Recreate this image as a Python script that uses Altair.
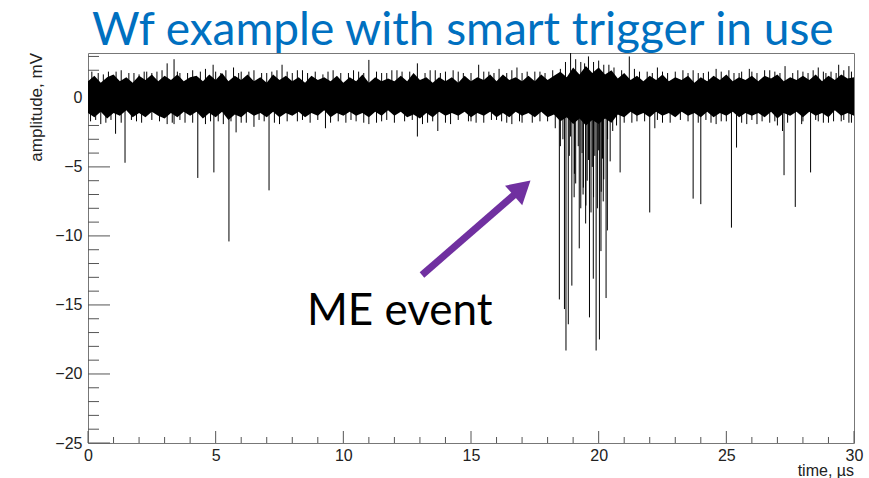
import altair as alt
import pandas as pd

# ---- waveform: dense noise band (envelope every 0.25 us) ----
env_t = [i * 0.25 for i in range(121)]
env_hi = [
    1.2, 1.6, 1.1, 1.5, 1.7, 1.2, 1.5, 1.1, 1.6,
    1.3, 1.7, 1.2, 1.6, 1.3, 1.7, 1.2, 1.5,
    1.6, 1.2, 1.7, 1.3, 1.8, 1.2, 1.6, 1.3,
    1.7, 1.2, 1.5, 1.1, 1.7, 1.3, 1.6, 1.2,
    1.5, 1.1, 1.6, 1.3, 1.5, 1.2, 1.6, 1.1,
    1.5, 1.2, 1.7, 1.1, 1.5, 1.2, 1.4, 1.2,
    1.6, 1.2, 1.8, 1.3, 1.5, 1.1, 1.5, 1.2,
    1.5, 1.1, 1.6, 1.2, 1.5, 1.3, 1.7, 1.2,
    1.7, 1.3, 1.5, 1.2, 1.6, 1.2, 1.7, 1.3,
    1.6, 1.9, 1.5, 2.2, 1.7, 2.3, 1.8, 2.2,
    1.7, 2.0, 1.4, 1.8, 1.3, 1.6, 1.2, 1.6,
    1.3, 1.7, 1.2, 1.5, 1.3, 1.6, 1.1, 1.5,
    1.2, 1.6, 1.3, 1.7, 1.2, 1.5, 1.3, 1.6,
    1.2, 1.6, 1.4, 1.7, 1.2, 1.5, 1.3, 1.6,
    1.3, 1.7, 1.2, 1.6, 1.3, 1.7, 1.4, 1.5,
]
env_lo = [
    -1.1, -1.4, -1.0, -1.5, -1.1, -1.3, -0.9, -1.4, -1.1,
    -1.4, -1.0, -1.3, -1.5, -1.1, -1.4, -1.0, -1.3,
    -1.0, -1.5, -1.1, -1.4, -1.0, -1.6, -1.2, -1.4,
    -1.0, -1.3, -1.1, -1.4, -1.0, -1.4, -1.1, -1.3,
    -1.0, -1.4, -1.1, -1.3, -0.9, -1.4, -1.1, -1.3,
    -1.0, -1.3, -1.1, -1.4, -1.0, -1.3, -0.9, -1.3,
    -1.0, -1.4, -1.2, -1.5, -1.1, -1.4, -1.0, -1.3,
    -1.1, -1.3, -1.0, -1.4, -1.1, -1.3, -1.0, -1.4,
    -1.1, -1.4, -1.0, -1.3, -1.1, -1.4, -1.0, -1.4,
    -1.2, -1.7, -1.4, -1.9, -1.5, -2.0, -1.6, -1.9,
    -1.5, -1.8, -1.2, -1.4, -1.0, -1.3, -1.1, -1.4,
    -1.0, -1.3, -1.1, -1.4, -1.0, -1.3, -1.1, -1.4,
    -1.0, -1.4, -1.1, -1.3, -1.0, -1.4, -1.1, -1.3,
    -1.1, -1.4, -1.0, -1.5, -1.1, -1.3, -1.0, -1.4,
    -1.0, -1.3, -1.1, -1.4, -0.9, -1.3, -1.1, -1.3,
]

# ---- individual excursions above the band (time us, amplitude mV) ----
up_t = [0.15, 0.4, 0.6, 0.8, 1.1, 1.3, 1.6, 1.8, 2.0, 2.2, 2.3, 2.5, 2.7, 2.9,
        3.1, 3.37, 3.5, 3.6, 3.9, 4.1, 4.4, 4.6, 4.9, 5.0, 5.2, 5.4, 5.7, 5.9,
        6.0, 6.3, 6.5, 6.8, 7.0, 7.2, 7.4, 7.6, 7.8, 8.0, 8.2, 8.4, 8.6, 8.9,
        9.2, 9.4, 9.6, 9.9, 10.2, 10.4, 10.6, 10.8, 11.0, 11.3, 11.5, 11.7,
        11.9, 12.1, 12.3, 12.6, 12.9, 13.2, 13.4, 13.6, 13.8, 14.0, 14.3, 14.5,
        14.7, 15.0, 15.3, 15.5, 15.7, 15.9, 16.1, 16.4, 16.6, 16.8, 17.0, 17.2,
        17.5, 17.7, 17.9, 18.2, 18.5, 18.7, 18.9, 19.1, 19.3, 19.45, 19.6, 19.8,
        20.0, 20.2, 20.4, 20.6, 20.9, 21.2, 21.4, 21.6, 21.9, 22.1, 22.3, 22.5,
        22.7, 23.0, 23.3, 23.5, 23.7, 23.9, 24.1, 24.3, 24.6, 24.8, 25.1, 25.3,
        25.5, 25.6, 25.9, 26.0, 26.2, 26.5, 26.7, 26.9, 27.1, 27.3, 27.6, 27.8,
        28.0, 28.2, 28.4, 28.6, 28.8, 28.9, 29.1, 29.3, 29.4, 29.6, 29.8, 29.9]
up_v = [1.9, 1.8, 1.7, 1.9, 1.9, 2.0, 1.8, 1.8, 1.7, 1.9, 1.9, 1.8, 1.9, 2.0,
        2.5, 2.8, 1.9, 1.8, 1.8, 2.0, 1.9, 2.1, 2.4, 1.9, 1.8, 2.0, 2.2, 1.8,
        1.9, 1.9, 2.0, 1.8, 1.8, 1.9, 2.0, 2.4, 1.9, 1.8, 2.0, 2.0, 1.8, 1.9,
        1.7, 1.9, 2.0, 1.8, 1.8, 2.0, 1.9, 1.8, 2.75, 1.9, 1.8, 1.8,
        2.0, 2.0, 1.9, 1.9, 2.5, 1.8, 2.0, 2.0, 1.8, 1.9, 2.0, 1.9,
        1.8, 1.8, 2.4, 1.9, 1.9, 1.8, 2.1, 1.8, 2.0, 2.2, 1.8, 1.9,
        1.9, 1.9, 1.8, 2.0, 2.1, 2.6, 3.25, 2.8, 2.6, 2.5, 3.0, 2.6,
        2.7, 2.4, 2.4, 2.2, 2.0, 3.0, 2.1, 1.9, 1.9, 1.8, 2.2, 1.9,
        1.8, 1.9, 2.0, 1.8, 2.0, 1.8, 1.8, 1.9, 2.1, 1.9, 2.0, 1.8,
        1.8, 1.9, 2.1, 1.9, 1.8, 2.0, 2.0, 1.9, 1.8, 2.3, 1.8, 2.0,
        1.9, 1.8, 2.0, 2.2, 1.9, 1.8, 1.9, 1.8, 2.4, 2.0, 2.3, 1.9]

# ---- negative pulses (time us, amplitude mV) ----
down_t = [0.1, 0.3, 0.5, 0.7, 0.9, 1.08, 1.3, 1.45, 1.7, 1.9, 2.1, 2.5, 2.8,
          3.1, 3.3, 3.37, 3.6, 3.8, 4.1, 4.3, 4.6, 4.8, 4.93, 5.1, 5.3, 5.52,
          5.6, 5.8, 6.0, 6.2, 6.5, 6.7, 6.9, 7.09, 7.3, 7.5, 7.8, 8.2, 8.4,
          8.7, 9.0, 9.3, 9.5, 9.8, 10.1, 10.3, 10.5, 10.8, 11.0, 11.3, 11.5,
          11.7, 12.0, 12.4, 12.7, 12.9, 13.1, 13.3, 13.5, 13.7, 14.0, 14.2,
          14.5, 14.9, 15.0, 15.2, 15.5, 15.8, 16.0, 16.2, 16.4, 16.6, 16.9,
          17.0, 17.4, 17.7, 18.0, 18.3,
          18.46, 18.5, 18.6, 18.66, 18.72, 18.81, 18.85, 18.9, 18.95, 19.04,
          19.05, 19.1, 19.2, 19.24, 19.3, 19.35, 19.39, 19.4, 19.49, 19.5,
          19.55, 19.6, 19.64, 19.7, 19.75, 19.79, 19.8, 19.85, 19.9, 19.95,
          20.0, 20.03, 20.09, 20.1, 20.15, 20.18, 20.2, 20.29, 20.34, 20.35,
          20.45, 20.55, 20.7, 20.84,
          21.0, 21.3, 21.5, 21.8, 22.0, 22.2, 22.3, 22.5, 22.8, 23.2, 23.5,
          23.7, 23.9, 24.0, 24.2, 24.4, 24.6, 24.8, 25.0, 25.2, 25.4, 25.6,
          25.8, 26.0, 26.2, 26.4, 26.7, 26.9, 27.0, 27.2, 27.26, 27.4, 27.7,
          27.95, 28.0, 28.3, 28.5, 28.6, 28.8, 29.0, 29.2, 29.5, 29.6, 29.8,
          29.9]
down_v = [-1.7, -1.6, -1.9, -1.8, -1.6, -2.6, -1.8, -4.7, -1.6, -1.7, -1.8, -1.6, -1.7,
          -1.9, -1.8, -1.9, -1.6, -1.8, -1.8, -5.8, -1.9, -1.7, -5.4, -1.7, -1.9, -10.4,
          -1.7, -2.5, -1.8, -1.8, -2.1, -1.6, -1.7, -6.7, -1.8, -1.9, -1.7, -1.7, -1.6,
          -1.8, -1.6, -2.2, -1.8, -1.7, -1.8, -1.6, -1.7, -1.8, -1.9, -1.8, -1.7,
          -1.6, -1.8, -1.7, -1.6, -2.8, -1.9, -1.8, -1.7, -2.4, -1.8, -1.9,
          -1.6, -1.7, -1.7, -1.8, -1.8, -1.6, -1.6, -1.7, -1.8, -1.9, -1.7,
          -1.8, -1.8, -1.7, -1.7, -2.2,
          -14.6, -3.5, -3.0, -15.3, -18.3, -16.4, -4.2, -2.8, -13.6, -7.2,
          -5.5, -6.2, -3.5, -10.9, -8.0, -4.0, -7.0, -6.5, -9.1, -7.8,
          -6.0, -4.5, -15.9, -8.3, -5.0, -13.1, -7.2, -4.2, -18.3, -8.0,
          -3.8, -17.5, -11.1, -6.8, -4.4, -7.5, -5.9, -14.5, -9.6, -3.0,
          -4.6, -2.4, -2.0, -5.4,
          -1.8, -1.8, -1.7, -1.7, -8.3, -2.2, -1.6, -1.8, -1.8, -1.6, -1.7,
          -7.3, -1.8, -7.7, -1.6, -1.8, -1.9, -1.7, -1.7, -9.4, -3.6, -1.8,
          -1.9, -1.6, -1.9, -1.7, -1.8, -1.7, -2.0, -2.4, -5.6, -1.8, -7.9,
          -1.9, -1.7, -5.4, -1.6, -1.7, -1.8, -1.8, -1.7, -1.7, -1.6, -1.8,
          -1.8]

# ---- axis ticks ----
x_major = [0, 5, 10, 15, 20, 25, 30]
x_minor = [t for t in range(0, 31) if t % 5]
y_major = [-25, -20, -15, -10, -5, 0]
y_minor = [v for v in range(-25, 4) if v % 5]

# ---- annotation ----
title_text = "Wf example with smart trigger in use"
note_text = "ME event"
arrow_t = [13.08, 17.0]
arrow_a = [-12.83, -6.53]
arrow_head_angle = 48.6

W, H = 766, 390
X_DOMAIN = [0, 30]
Y_DOMAIN = [-25, 3.25]
LABEL_FONT = "Liberation Sans"
TEXT_FONT = "Lato"

xs = alt.Scale(domain=X_DOMAIN, nice=False, zero=False)
ys = alt.Scale(domain=Y_DOMAIN, nice=False, zero=False)

x_axis = alt.Axis(values=x_major, format="d", ticks=False, domain=False, grid=False,
                  labelFont=LABEL_FONT, labelFontSize=16, labelColor="#222",
                  labelPadding=4, labelFlush=False, title=None)
y_axis = alt.Axis(values=y_major, format="d", ticks=False, domain=False, grid=False,
                  labelFont=LABEL_FONT, labelFontSize=16, labelColor="#222",
                  labelPadding=6, title=None)

band_df = pd.DataFrame({"t": env_t, "hi": env_hi, "lo": env_lo})
spikes_df = pd.DataFrame({"t": up_t + down_t, "v": up_v + down_v})

band = alt.Chart(band_df).mark_area(color="black", opacity=1, interpolate="linear").encode(
    x=alt.X("t:Q", scale=xs, axis=x_axis),
    y=alt.Y("lo:Q", scale=ys, axis=y_axis),
    y2="hi:Q",
)

# each pulse is drawn from the baseline out to its peak value
spikes = alt.Chart(spikes_df).transform_calculate(base="0").mark_rule(
    color="black", strokeWidth=1).encode(
    x=alt.X("t:Q", scale=xs),
    y=alt.Y("base:Q", scale=ys),
    y2="v:Q",
)

# inward ticks, ROOT style
xt_major = alt.Chart(pd.DataFrame({"t": x_major})).mark_rule(color="#555").encode(
    x=alt.X("t:Q", scale=xs), y=alt.value(H), y2=alt.value(H - 12))
xt_minor = alt.Chart(pd.DataFrame({"t": x_minor})).mark_rule(color="#555").encode(
    x=alt.X("t:Q", scale=xs), y=alt.value(H), y2=alt.value(H - 6))
yt_major = alt.Chart(pd.DataFrame({"v": y_major})).mark_rule(color="#555").encode(
    y=alt.Y("v:Q", scale=ys), x=alt.value(0), x2=alt.value(22))
yt_minor = alt.Chart(pd.DataFrame({"v": y_minor})).mark_rule(color="#555").encode(
    y=alt.Y("v:Q", scale=ys), x=alt.value(0), x2=alt.value(11))

one = pd.DataFrame({"s": [0]})
title = alt.Chart(one).mark_text(text=title_text, font=TEXT_FONT, fontSize=46,
                                 color="#0070C0", align="left", baseline="alphabetic").encode(
    x=alt.value(4), y=alt.value(-8))
ytitle = alt.Chart(one).mark_text(text="amplitude, mV", font=LABEL_FONT, fontSize=17,
                                  color="#222", align="right", baseline="middle", angle=270).encode(
    x=alt.value(-51), y=alt.value(0))
xtitle = alt.Chart(one).mark_text(text="time, \u00b5s", font=LABEL_FONT, fontSize=16,
                                  color="#222", align="right", baseline="middle").encode(
    x=alt.value(W), y=alt.value(H + 28))
note = alt.Chart(one).mark_text(text=note_text, font=TEXT_FONT, fontSize=44,
                                color="black", align="left", baseline="alphabetic").encode(
    x=alt.value(219), y=alt.value(272))

arrow_df = pd.DataFrame({"t": arrow_t, "a": arrow_a})
arrow_line = alt.Chart(arrow_df).mark_line(color="#7030A0", strokeWidth=7).encode(
    x=alt.X("t:Q", scale=xs), y=alt.Y("a:Q", scale=ys))
arrow_head = alt.Chart(arrow_df.tail(1)).mark_point(
    shape="triangle-up", size=676, filled=True, color="#7030A0", opacity=1,
    angle=arrow_head_angle).encode(
    x=alt.X("t:Q", scale=xs), y=alt.Y("a:Q", scale=ys))

chart = alt.layer(
    xt_major, xt_minor, yt_major, yt_minor, band, spikes,
    arrow_line, arrow_head, title, ytitle, xtitle, note,
).properties(
    width=W, height=H,
    autosize=alt.AutoSizeParams(type="none"),
    padding={"left": 88, "top": 53, "right": 15, "bottom": 35},
    background="white",
).configure_view(stroke="#777", strokeWidth=1)

chart.save("out.html", embed_options={"renderer": "svg", "actions": False})
